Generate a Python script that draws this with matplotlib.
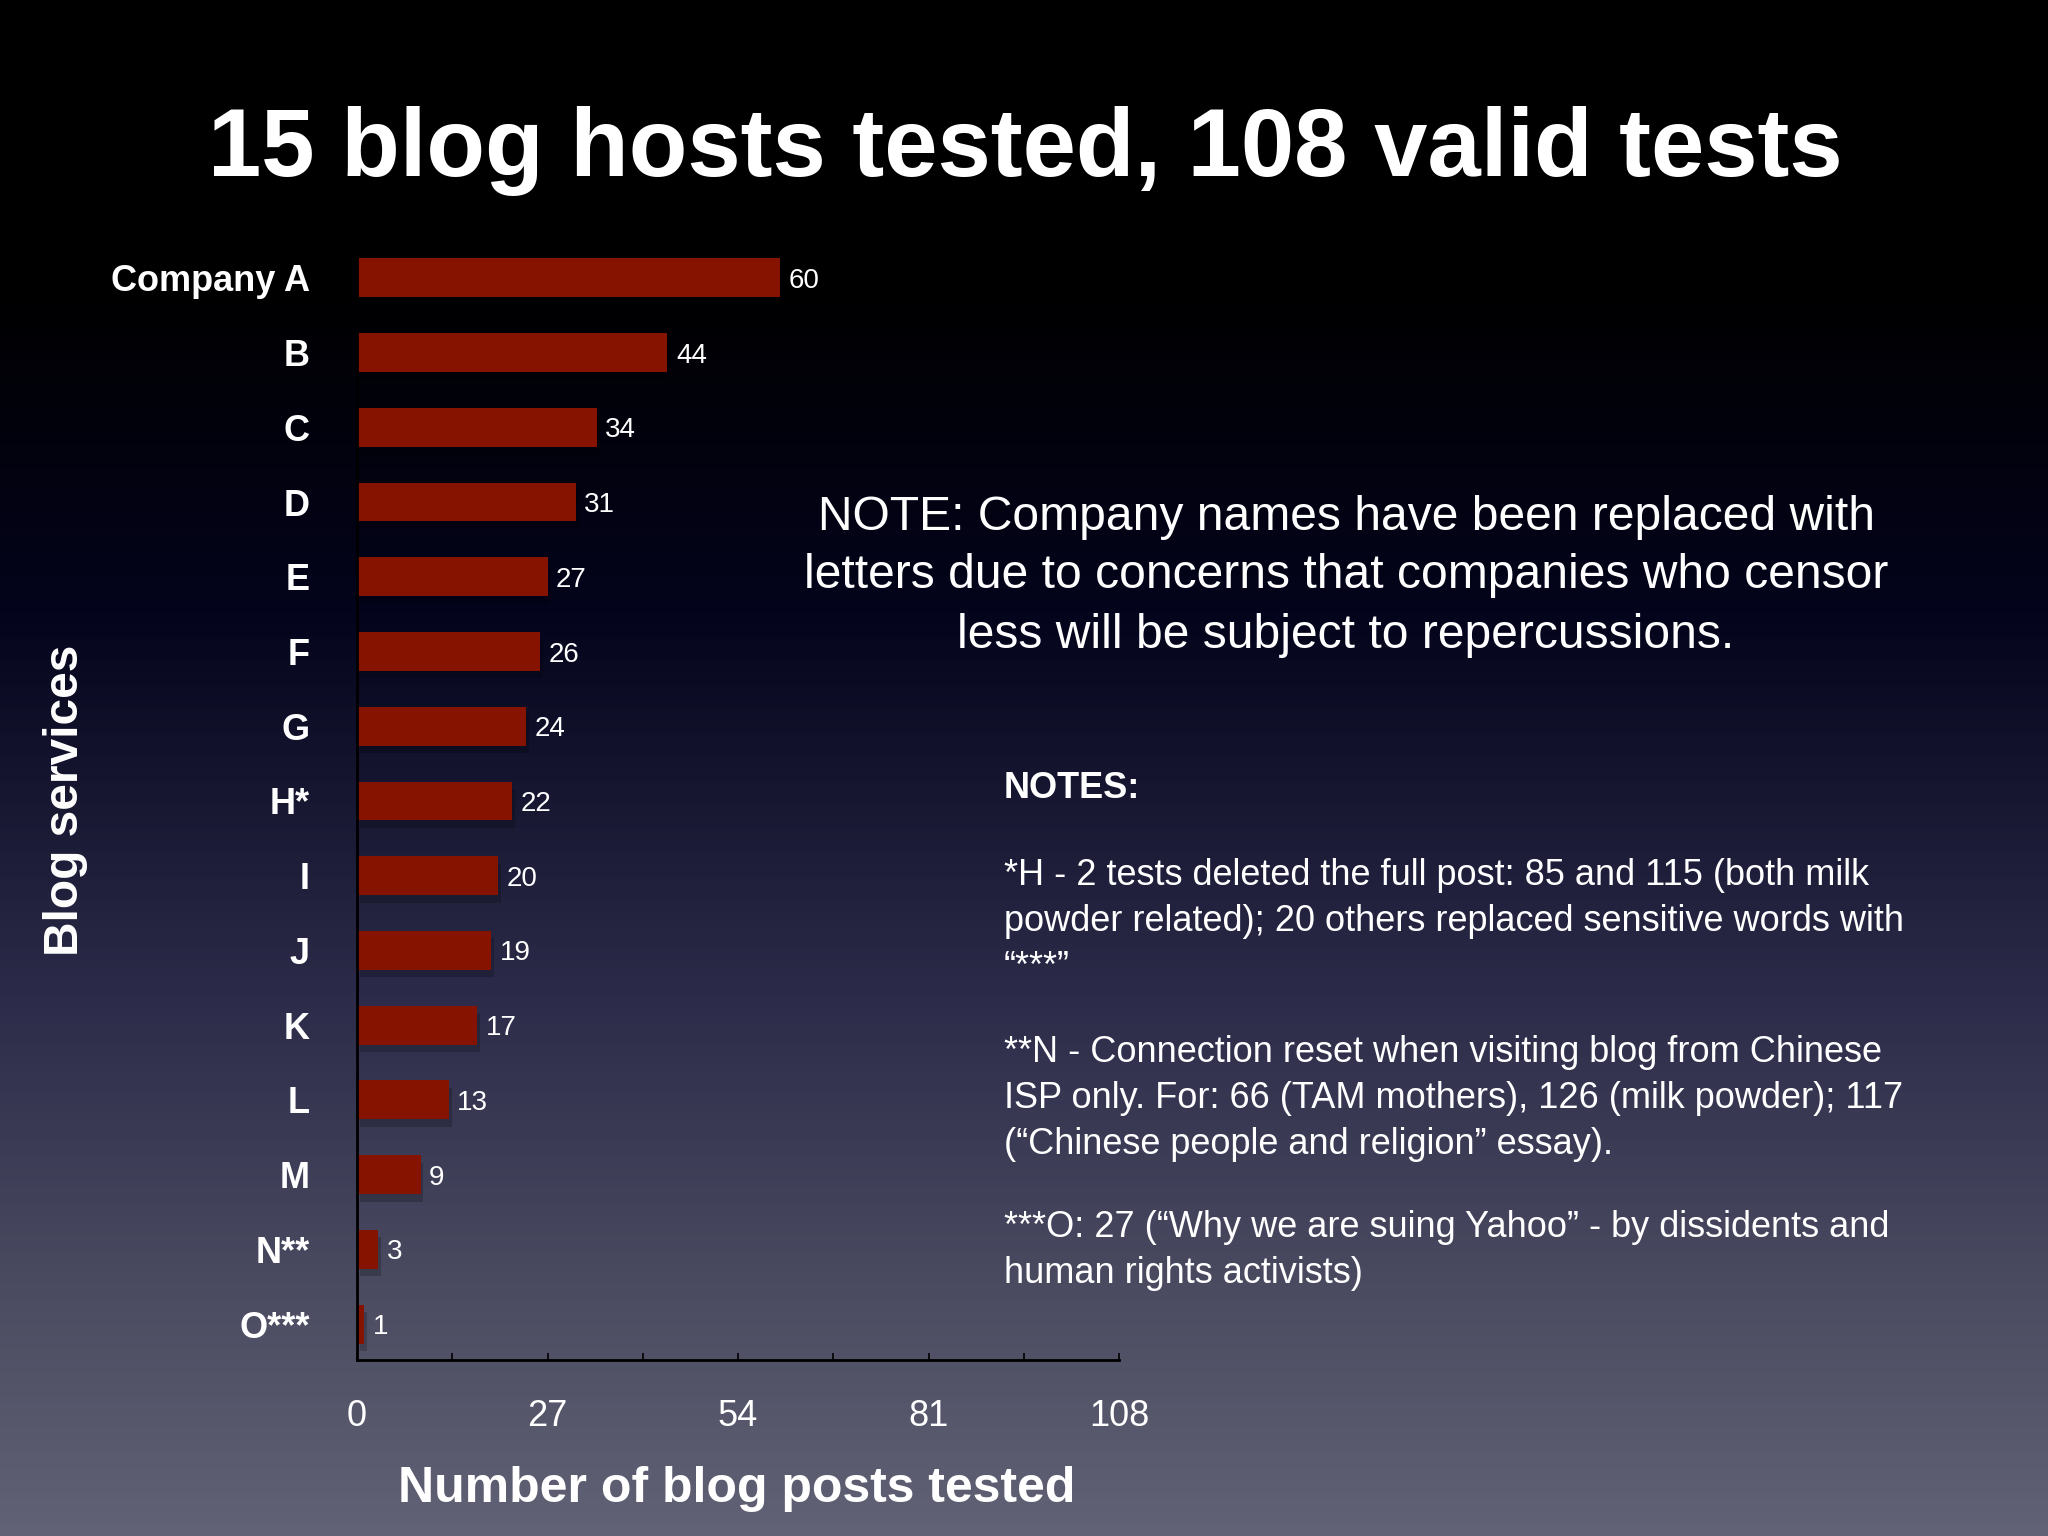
import numpy as np
import matplotlib.pyplot as plt
from matplotlib.colors import LinearSegmentedColormap

plt.rcParams['font.family'] = ['Liberation Sans', 'DejaVu Sans']

services = ['Company A', 'B', 'C', 'D', 'E', 'F', 'G', 'H*', 'I', 'J', 'K', 'L', 'M', 'N**', 'O***']
posts = [60, 44, 34, 31, 27, 26, 24, 22, 20, 19, 17, 13, 9, 3, 1]
x_ticks = [0, 27, 54, 81, 108]

title = '15 blog hosts tested, 108 valid tests'
note = ('NOTE: Company names have been replaced with\n'
        'letters due to concerns that companies who censor\n'
        'less will be subject to repercussions.')
notes = [
    '*H - 2 tests deleted the full post: 85 and 115 (both milk\n'
    'powder related); 20 others replaced sensitive words with\n'
    '\u201c***\u201d',
    '**N - Connection reset when visiting blog from Chinese\n'
    'ISP only. For: 66 (TAM mothers), 126 (milk powder); 117\n'
    '(\u201cChinese people and religion\u201d essay).',
    '***O: 27 (\u201cWhy we are suing Yahoo\u201d - by dissidents and\n'
    'human rights activists)',
]

W, H = 2048, 1536
fig = plt.figure(figsize=(W / 100, H / 100), dpi=100)

# background gradient
bg = fig.add_axes([0, 0, 1, 1])
cmap = LinearSegmentedColormap.from_list('bg', [
    (0.0, '#000000'), (0.18, '#000000'), (0.40, '#04041c'),
    (0.65, '#2c2c4a'), (0.85, '#4c4c62'), (1.0, '#626276')])
grad = np.linspace(0, 1, 512).reshape(-1, 1)
bg.imshow(grad, aspect='auto', cmap=cmap, extent=[0, 1, 0, 1])
bg.set_axis_off()

# main bar axes
ax = fig.add_axes([357 / W, 1 - 1360 / H, (1119 - 357) / W, (1360 - 233) / H])
ax.set_facecolor('none')
y = np.arange(len(services))
ax.barh(y + 0.1, posts, left=0.4, height=0.52, color='black', alpha=0.2, zorder=1)
ax.barh(y, posts, height=0.52, color='#861200', zorder=2)
for yi, v in zip(y, posts):
    ax.text(v + 1.2, yi, str(v), color='white', fontsize=20,
            va='center_baseline', ha='left')

ax.set_ylim(len(services) - 0.52, -0.6)
ax.set_xlim(0, 108)
ax.set_yticks(y)
ax.set_yticklabels(services, fontsize=26, fontweight='bold', color='white')
ax.tick_params(axis='y', length=0, pad=34)
ax.set_xticks(x_ticks)
ax.set_xticks([13.5, 40.5, 67.5, 94.5], minor=True)
ax.set_xticklabels([str(t) for t in x_ticks], fontsize=26, color='white')
ax.tick_params(axis='x', which='both', direction='in', length=5, width=1.2,
               color='black', pad=28)
for s in ['top', 'right']:
    ax.spines[s].set_visible(False)
for s in ['left', 'bottom']:
    ax.spines[s].set_color('black')
    ax.spines[s].set_linewidth(2)

fig.text(66 / W, 1 - 800 / H, 'Blog services', rotation=90, fontsize=34.5,
         fontweight='bold', color='white', ha='center', va='center')
fig.text(737 / W, 1 - 1489 / H, 'Number of blog posts tested', fontsize=36,
         fontweight='bold', color='white', ha='center', va='center')

fig.text(0.5 * (210 + 1840) / W, 1 - 151 / H, title, fontsize=69,
         fontweight='bold', color='white', ha='center', va='center')

fig.text(1346 / W, 1 - 576 / H, note, fontsize=34.6, color='white',
         ha='center', va='center', linespacing=1.4)

fig.text(1004 / W, 1 - 788 / H, 'NOTES:', fontsize=26, fontweight='bold',
         color='white', ha='left', va='center')
note_y = [858, 1035, 1210]
for ny, t in zip(note_y, notes):
    fig.text(1004 / W, 1 - ny / H, t, fontsize=26, color='white',
             ha='left', va='top', linespacing=1.4)

fig.savefig('out.png', dpi=100)
